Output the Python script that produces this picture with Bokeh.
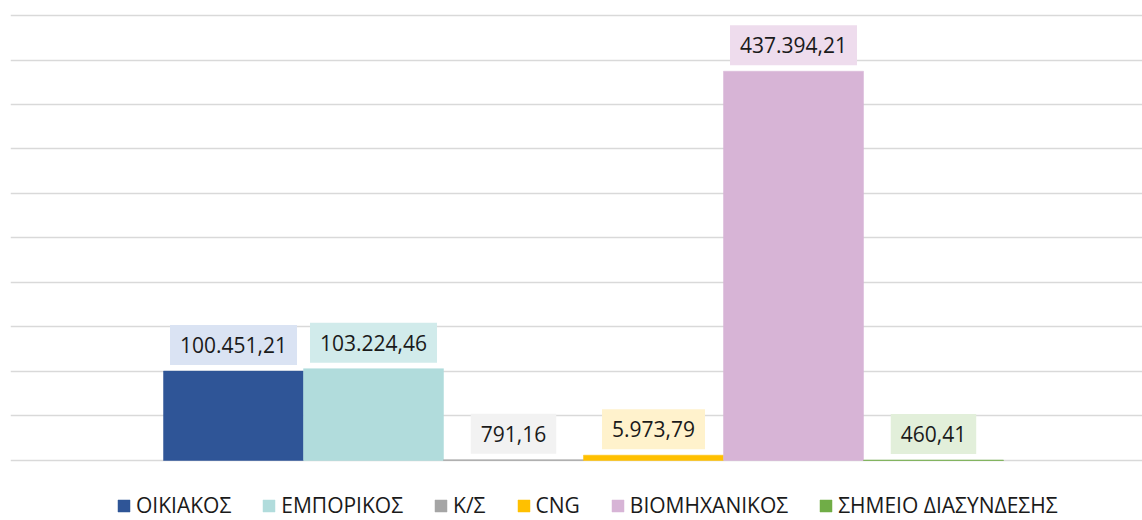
from bokeh.plotting import figure
from bokeh.models import ColumnDataSource, Range1d, Legend, LegendItem, FixedTicker
from bokeh.core.properties import value
from bokeh.embed import file_html
from bokeh.resources import INLINE

categories = ["ΟΙΚΙΑΚΟΣ", "ΕΜΠΟΡΙΚΟΣ", "Κ/Σ", "CNG", "ΒΙΟΜΗΧΑΝΙΚΟΣ", "ΣΗΜΕΙΟ ΔΙΑΣΥΝΔΕΣΗΣ"]
values = [100451.21, 103224.46, 791.16, 5973.79, 437394.21, 460.41]
value_labels = ["100.451,21", "103.224,46", "791,16", "5.973,79", "437.394,21", "460,41"]
bar_colors = ["#2F5597", "#B1DCDC", "#A5A5A5", "#FFC000", "#D7B4D6", "#70AD47"]
label_bg = ["#DAE3F3", "#D1EBEB", "#F2F2F2", "#FFF2CC", "#EEDCED", "#E2EFDA"]
y_ticks = [0, 50000, 100000, 150000, 200000, 250000, 300000, 350000, 400000, 450000, 500000]

positions = list(range(len(categories)))

src = ColumnDataSource(dict(
    x=positions, value=values, label=value_labels,
    color=bar_colors, bg=label_bg, cat=categories,
))

# lower part of the frame (below zero) holds the legend
p = figure(width=1142, height=520,
           x_range=Range1d(-1.593, 6.493), y_range=Range1d(-67416, 511236),
           x_axis_location=None, y_axis_location=None,
           output_backend="svg", toolbar_location=None,
           min_border_left=10, min_border_right=0, min_border_top=5, min_border_bottom=0)
p.outline_line_color = None
p.background_fill_color = "white"
p.border_fill_color = "white"
p.xgrid.visible = False
p.ygrid.ticker = FixedTicker(ticks=y_ticks)
p.ygrid.grid_line_color = "#D9D9D9"
p.ygrid.grid_line_width = 1.5

items = []
for i, cat in enumerate(categories):
    s = ColumnDataSource(dict(x=[positions[i]], value=[values[i]]))
    r = p.vbar(x="x", top="value", width=1.0, source=s,
               fill_color=bar_colors[i], line_color=bar_colors[i], line_width=0.5)
    items.append(LegendItem(label=cat, renderers=[r]))

p.text(x="x", y="value", text="label", source=src,
       text_align="center", text_baseline="bottom",
       y_offset=-6, text_font=value("Open Sans"), text_font_size="21px",
       text_color="#1A1A1A", background_fill_color="bg",
       padding=dict(left=10, right=10, top=12, bottom=12))

legend = Legend(items=items, orientation="horizontal", location=(106, 1),
                glyph_width=15, glyph_height=15, label_standoff=5, spacing=30,
                label_text_font="Open Sans", label_text_font_size="21px",
                label_text_color="#1A1A1A", label_height=20,
                border_line_color=None, background_fill_alpha=0,
                padding=0, margin=0)
p.add_layout(legend)

open("out.html", "w").write(file_html(p, INLINE))
